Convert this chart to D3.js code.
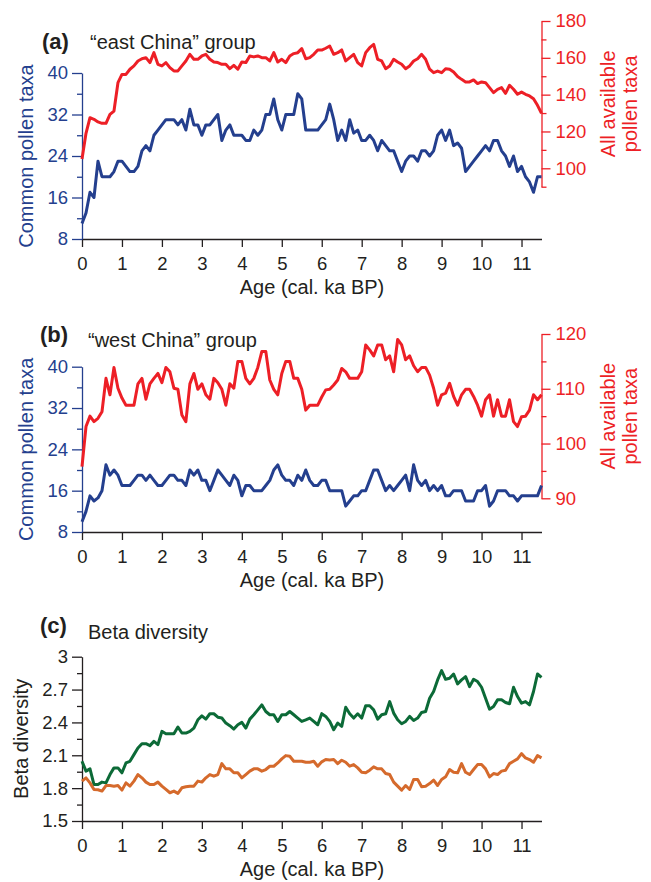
<!DOCTYPE html>
<html>
<head>
<meta charset="utf-8">
<script src="https://cdn.jsdelivr.net/npm/d3@7"></script>
<style>
  body { margin: 0; background: #fff; }
  svg { display: block; font-family: "Liberation Sans", Arial, sans-serif; }
</style>
</head>
<body>
<div id="chart"></div>
<script>
// ages in cal. ka BP
var ages = [0,0.1,0.2,0.3,0.4,0.5,0.6,0.7,0.8,0.9,1,1.1,1.2,1.3,1.4,1.5,1.6,1.7,1.8,1.9,
  2,2.1,2.2,2.3,2.4,2.5,2.6,2.7,2.8,2.9,3,3.1,3.2,3.3,3.4,3.5,3.6,3.7,3.8,3.9,
  4,4.1,4.2,4.3,4.4,4.5,4.6,4.7,4.8,4.9,5,5.1,5.2,5.3,5.4,5.5,5.6,5.7,5.8,5.9,
  6,6.1,6.2,6.3,6.4,6.5,6.6,6.7,6.8,6.9,7,7.1,7.2,7.3,7.4,7.5,7.6,7.7,7.8,7.9,
  8,8.1,8.2,8.3,8.4,8.5,8.6,8.7,8.8,8.9,9,9.1,9.2,9.3,9.4,9.5,9.6,9.7,9.8,9.9,
  10,10.1,10.2,10.3,10.4,10.5,10.6,10.7,10.8,10.9,11,11.1,11.2,11.3,11.4,11.5];

// (a) "east China" group
var eastCommon = [11,13,17,16,23,20,20,20,21,23,23,22,21,21,22,25,26,25,28,29,
  30,31,31,31,30,31,29,33,30,30,28,30,30,31,32,27,29,30,28,28,
  28,27,27,29,28,29,32,32,35,31,29,32,32,32,36,35,29,29,29,29,
  30,31,34,31,27,29,27,31,28.4,29,27,27,28,27,25,27,26,25,25,23,
  21,23,24,24,23,25,25,24,25,28,29,27,29,26,26.5,25.5,21,22,23,24,
  25,26,25,27,27,25,24,22,24,21,22,20,19,17,20,20];
var eastAll = [105,119,127.5,126.6,125.2,124.4,124.4,129.3,131.1,146.5,151,151,153.8,155.6,158.3,159.5,160.1,157.4,162.8,156.5,
  155.6,157.4,154.7,152.9,152.9,155.6,158.3,161.9,159.2,159.2,161,161.9,159.2,157.7,157.4,156.5,156.5,154.1,155.9,153.8,
  157.7,157.4,161,160.5,161,160.1,160.1,158.3,162.8,157.7,159.2,157.4,161,162.3,162.8,165,159.5,160.1,161.9,164.3,
  164.2,165.2,166.4,161.9,162.8,164.3,158.3,160.1,161.9,157.4,155.6,162.8,165.5,167.3,159.2,158.3,154.1,155.6,159.2,157.7,
  156.5,154.1,155.6,158.3,159.5,161.9,159.2,153.8,151.9,152.8,151.9,154.1,153.8,152.3,149.8,148.3,146.9,146.9,148,146,
  146.9,146.5,143.8,141.1,142.9,143.8,140.7,145.1,142.9,140.2,141.4,140.2,139.3,137.8,134.2,129.9];

// (b) "west China" group
var westCommon = [10,12,15,14,14.6,16,21,19,20,19,17,17,17,18,19,19,18,19,18,17,
  17,18,19,19,18,18,17,20,19,20,18,18,16,18,20,19,18,17,19,18,
  15,17,17,16,16,16,17,18,20,21,19,18,18,17,19,18,20,18,17,17,
  18,18,16,16,16,16,13,14,15,15,16,16,18,20,20,18,16,17,16,17,
  18,19,16,21,18,17,18,16,17,16,17,15,15,16,16,16,14,14,14,16,
  16,17,13,14,16,16,16,15,15,14,15,15,15,15,15,17];
var westAll = [95.8,103.1,105,104,104.6,105.8,111.9,108.9,113.9,110.1,108.3,107,107,107,110.9,111.9,108.1,110.9,111.9,112.8,
  111.1,113.9,113.1,110.1,109.9,105.2,104,110.9,112.8,109.9,110.9,108.9,108.1,111.9,111.1,109.9,107,110.9,110.1,115,
  115,111.9,110.9,111.9,113.9,116.8,116.8,111.6,109.9,108.9,112.8,115,115,111.9,111.9,109.9,106.1,107,107,107,
  108.5,109.8,109.9,110.7,111.6,113.7,113.1,111.9,111.9,111.9,113.1,118,117.1,116,118,118,115.3,116,113.1,119,
  118,115.3,116,114.2,113.1,113.9,113.9,112.5,110.1,107,108.9,109.2,111,108.6,107,108.9,109.9,109.9,108.6,107,
  105,108,108.9,105,108,105,105,108,104,103.1,104.9,105,106.1,108.9,108,108.9];

// (c) beta diversity
var betaGreen = [2.045,1.955,1.976,1.833,1.833,1.855,1.848,1.924,1.985,1.985,1.94,2.03,2.045,2.106,2.167,2.206,2.206,2.188,2.227,2.197,
  2.318,2.297,2.297,2.297,2.358,2.303,2.303,2.318,2.348,2.424,2.46,2.43,2.479,2.479,2.448,2.44,2.394,2.37,2.339,2.379,
  2.4,2.348,2.43,2.47,2.515,2.56,2.5,2.47,2.47,2.409,2.47,2.47,2.5,2.47,2.44,2.409,2.424,2.44,2.409,2.379,
  2.48,2.455,2.409,2.333,2.394,2.364,2.539,2.479,2.44,2.479,2.44,2.552,2.552,2.515,2.43,2.47,2.479,2.59,2.485,2.424,
  2.388,2.409,2.455,2.418,2.44,2.491,2.5,2.621,2.682,2.788,2.873,2.794,2.803,2.842,2.752,2.788,2.818,2.727,2.794,2.773,
  2.721,2.621,2.521,2.545,2.606,2.606,2.582,2.57,2.721,2.636,2.576,2.59,2.56,2.682,2.842,2.812];
var betaOrange = [1.864,1.894,1.848,1.788,1.785,1.773,1.824,1.824,1.818,1.824,1.782,1.848,1.818,1.864,1.924,1.894,1.855,1.833,1.833,1.855,
  1.818,1.788,1.758,1.773,1.752,1.803,1.812,1.818,1.818,1.864,1.855,1.894,1.924,1.909,1.924,2.024,1.976,1.976,1.94,1.94,
  1.894,1.924,1.955,1.976,1.976,1.955,1.97,2,2,2.03,2.067,2.097,2.091,2.045,2.045,2.045,2.036,2.036,2.045,2,
  2.04,2.061,2.058,2.061,2.024,2.055,2.036,2,2.015,1.985,1.945,1.94,1.964,1.994,1.976,1.976,1.933,1.924,1.855,1.818,
  1.782,1.824,1.788,1.879,1.879,1.812,1.818,1.842,1.873,1.824,1.879,1.903,1.97,1.945,1.94,2.024,1.945,1.924,1.97,2.015,
  2.015,1.976,1.903,1.933,1.924,1.955,1.964,2.024,2.045,2.067,2.115,2.076,2.061,2.036,2.097,2.076];

// ticks
var ageTicks = [0,1,2,3,4,5,6,7,8,9,10,11];
var commonTicks = [8,16,24,32,40], commonMinor = [12,20,28,36];
var eastAllTicks = [100,120,140,160,180], eastAllMinor = [90,110,130,150,170];
var westAllTicks = [90,100,110,120], westAllMinor = [95,105,115];
var betaTicks = [1.5,1.8,2.1,2.4,2.7,3], betaMinor = [1.65,1.95,2.25,2.55,2.85];

var width = 651, height = 882;
var blue = "#243f8e", red = "#ed1f26", green = "#0c6a37", orange = "#d56a2c", ink = "#231f20";

var svg = d3.select("#chart").append("svg")
  .attr("width", width)
  .attr("height", height);

var x = d3.scaleLinear().domain([0, 11.5]).range([82, 541.5]);

function styleAxis(sel, color) {
  sel.attr("font-family", null).attr("font-size", 18.5);
  sel.select(".domain").attr("stroke", color).attr("stroke-width", 1.3);
  sel.selectAll(".tick line").attr("stroke", color).attr("stroke-width", 1.3);
  sel.selectAll(".tick text").attr("fill", color);
}

function minorAxis(g, axis, color) {
  g.append("g")
    .call(axis.tickSize(5).tickFormat(""))
    .call(function(s) {
      s.select(".domain").remove();
      s.selectAll(".tick line").attr("stroke", color).attr("stroke-width", 1.3);
    });
}

function line(y, values) {
  return d3.line()
    .x(function(d, i) { return x(ages[i]); })
    .y(function(d) { return y(d); })(values);
}

function drawLine(g, y, values, color) {
  g.append("path")
    .attr("d", line(y, values))
    .attr("fill", "none")
    .attr("stroke", color)
    .attr("stroke-width", 3)
    .attr("stroke-linejoin", "round");
}

function panel(o) {
  var g = svg.append("g");

  // x axis
  g.append("g")
    .attr("transform", `translate(0,${o.bottom})`)
    .call(d3.axisBottom(x).tickValues(ageTicks).tickSize(8).tickPadding(10).tickSizeOuter(0).tickFormat(String))
    .call(styleAxis, ink);

  g.append("text")
    .attr("x", 312)
    .attr("y", o.bottom + 54.5)
    .attr("text-anchor", "middle")
    .attr("font-size", 20)
    .attr("fill", ink)
    .text("Age (cal. ka BP)");

  // left axis
  var yL = d3.scaleLinear().domain(o.leftDomain).range([o.bottom, o.leftTop]);
  var left = g.append("g").attr("transform", `translate(${x(0)},0)`);
  left.append("g")
    .call(d3.axisLeft(yL).tickValues(o.leftTicks).tickSize(10).tickPadding(4).tickSizeOuter(0).tickFormat(String))
    .call(styleAxis, o.leftColor);
  minorAxis(left, d3.axisLeft(yL).tickValues(o.leftMinor), o.leftColor);

  g.append("text")
    .attr("transform", `translate(${o.leftTitleX},${(o.bottom + o.leftTop) / 2}) rotate(-90)`)
    .attr("text-anchor", "middle")
    .attr("font-size", 20)
    .attr("fill", o.leftColor)
    .text(o.leftTitle);

  // right axis
  var yR;
  if (o.rightDomain) {
    yR = d3.scaleLinear().domain(o.rightDomain).range(o.rightRange);
    var right = g.append("g").attr("transform", `translate(${x(11.5)},0)`);
    right.append("g")
      .call(d3.axisRight(yR).tickValues(o.rightTicks).tickSize(9).tickPadding(5).tickSizeOuter(0).tickFormat(String))
      .call(styleAxis, red);
    minorAxis(right, d3.axisRight(yR).tickValues(o.rightMinor), red);

    var cy = (o.rightRange[0] + o.rightRange[1]) / 2;
    ["All available", "pollen taxa"].forEach(function(t, i) {
      g.append("text")
        .attr("transform", `translate(${615 + i * 22},${cy}) rotate(-90)`)
        .attr("text-anchor", "middle")
        .attr("font-size", 20)
        .attr("fill", red)
        .text(t);
    });
  }

  // series
  o.series.forEach(function(s) {
    drawLine(g, s.right ? yR : yL, s.values, s.color);
  });

  // panel label and title
  g.append("text")
    .attr("x", o.labelX)
    .attr("y", o.labelY)
    .attr("font-size", 22)
    .attr("font-weight", "bold")
    .attr("fill", ink)
    .text(o.label);

  g.append("text")
    .attr("x", o.titleX)
    .attr("y", o.titleY)
    .attr("font-size", 20)
    .attr("fill", ink)
    .text(o.title);
}

panel({
  label: "(a)", labelX: 42, labelY: 49,
  title: "\u201ceast China\u201d group", titleX: 90, titleY: 49,
  bottom: 239, leftTop: 73,
  leftDomain: [8, 40], leftTicks: commonTicks, leftMinor: commonMinor,
  leftColor: blue, leftTitle: "Common pollen taxa", leftTitleX: 33,
  rightDomain: [90, 180], rightRange: [186.7, 21],
  rightTicks: eastAllTicks, rightMinor: eastAllMinor,
  series: [
    { values: eastCommon, color: blue },
    { values: eastAll, color: red, right: true }
  ]
});

panel({
  label: "(b)", labelX: 40, labelY: 342,
  title: "\u201cwest China\u201d group", titleX: 88, titleY: 347,
  bottom: 532, leftTop: 366.7,
  leftDomain: [8, 40], leftTicks: commonTicks, leftMinor: commonMinor,
  leftColor: blue, leftTitle: "Common pollen taxa", leftTitleX: 33,
  rightDomain: [90, 120], rightRange: [498.3, 334],
  rightTicks: westAllTicks, rightMinor: westAllMinor,
  series: [
    { values: westCommon, color: blue },
    { values: westAll, color: red, right: true }
  ]
});

panel({
  label: "(c)", labelX: 40, labelY: 633,
  title: "Beta diversity", titleX: 88, titleY: 639,
  bottom: 821, leftTop: 656.7,
  leftDomain: [1.5, 3], leftTicks: betaTicks, leftMinor: betaMinor,
  leftColor: ink, leftTitle: "Beta diversity", leftTitleX: 28,
  series: [
    { values: betaGreen, color: green },
    { values: betaOrange, color: orange }
  ]
});
</script>
</body>
</html>
